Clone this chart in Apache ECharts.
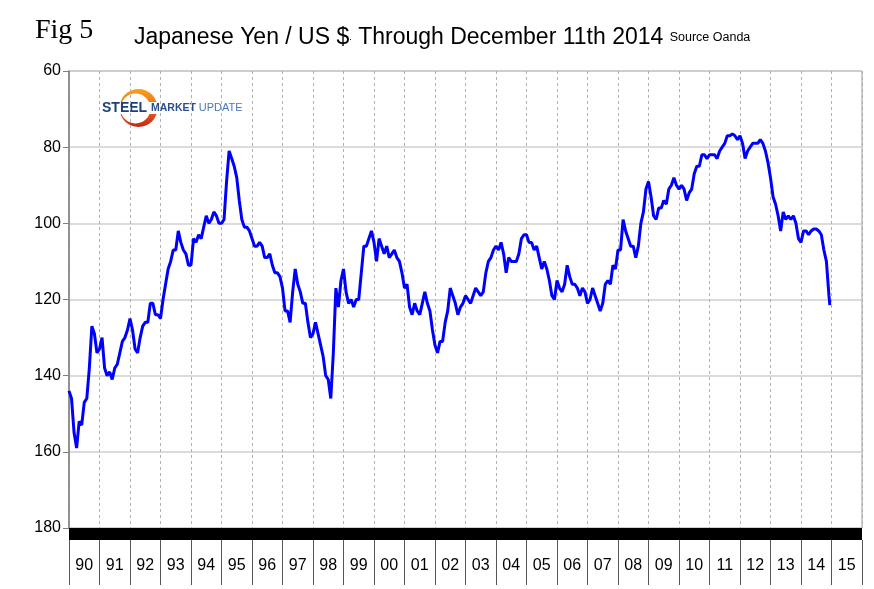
<!DOCTYPE html>
<html>
<head>
<meta charset="utf-8">
<script src="https://cdn.jsdelivr.net/npm/echarts@6/dist/echarts.min.js"></script>
<style>
  html, body { margin: 0; padding: 0; background: #fff; }
  #main { width: 874px; height: 589px; }
</style>
</head>
<body>
<div id="main"></div>
<script>
// yen per US $, one value per month (start of month)
var yen1990 = [144, 146, 155, 159, 152, 153, 147, 146, 138, 127, 129, 134];
var yen1991 = [133, 130, 138, 140, 139, 141, 138, 137, 134, 131, 130, 128];
var yen1992 = [125, 128, 133, 134, 130, 127, 126, 126, 121, 121, 124, 124];
var yen1993 = [125, 120, 116, 112, 110, 107, 107, 102, 105, 107, 108, 111];
var yen1994 = [111, 104, 105, 103, 104, 101, 98, 100, 99, 97, 98, 100];
var yen1995 = [100, 99, 89, 81, 83, 85, 88, 94, 99, 101, 101, 102];
var yen1996 = [104, 106, 106, 105, 106, 109, 109, 108, 111, 113, 113, 114];
var yen1997 = [117, 123, 123, 126, 118, 112, 116, 118, 121, 121, 126, 130];
var yen1998 = [129, 126, 129, 132, 135, 140, 141, 146, 134, 117, 122, 115];
var yen1999 = [112, 118, 121, 120, 122, 120, 120, 113, 106, 106, 104, 102];
var yen2000 = [105, 110, 104, 106, 108, 106, 109, 108, 107, 109, 110, 113];
var yen2001 = [117, 116, 122, 124, 121, 123, 124, 121, 118, 121, 123, 128];
var yen2002 = [132, 134, 131, 131, 126, 123, 117, 119, 121, 124, 122, 121];
var yen2003 = [119, 120, 121, 119, 117, 118, 119, 118, 113, 110, 109, 107];
var yen2004 = [106, 107, 105, 108, 113, 109, 110, 110, 110, 108, 104, 103];
var yen2005 = [103, 105, 105, 107, 106, 109, 112, 110, 112, 115, 119, 120];
var yen2006 = [115, 117, 118, 116, 111, 114, 116, 116, 117, 119, 117, 118];
var yen2007 = [121, 120, 117, 119, 121, 123, 121, 116, 115, 116, 111, 112];
var yen2008 = [107, 107, 99, 102, 104, 106, 106, 109, 106, 100, 97, 91];
var yen2009 = [89, 93, 98, 99, 96, 96, 94, 95, 91, 90, 88, 90];
var yen2010 = [91, 90, 91, 94, 92, 91, 87, 85, 85, 82, 82, 83];
var yen2011 = [82, 82, 82, 83, 81, 80, 79, 77, 77, 76.5, 77, 78];
var yen2012 = [77, 79, 83, 81, 80, 79, 79, 79, 78, 79, 81, 84];
var yen2013 = [88, 93, 95, 98, 102, 97, 99, 98, 99, 98, 100, 104];
var yen2014 = [105, 102, 102, 103, 102, 101.5, 101.5, 102, 103, 107, 110, 119];
var lastDate = 2014.945;   // December 11th 2014
var lastValue = 121.5;

var yearLabels = ['90', '91', '92', '93', '94', '95', '96', '97', '98', '99', '00', '01', '02',
                  '03', '04', '05', '06', '07', '08', '09', '10', '11', '12', '13', '14', '15'];
var yTicks = [60, 80, 100, 120, 140, 160, 180];

var yearly = [yen1990, yen1991, yen1992, yen1993, yen1994, yen1995, yen1996, yen1997, yen1998,
              yen1999, yen2000, yen2001, yen2002, yen2003, yen2004, yen2005, yen2006, yen2007,
              yen2008, yen2009, yen2010, yen2011, yen2012, yen2013, yen2014];

var lineData = [];
yearly.forEach(function (months, y) {
    months.forEach(function (v, m) {
        lineData.push([1990 + y + m / 12, v]);
    });
});
lineData.push([lastDate, lastValue]);

var chart = echarts.init(document.getElementById('main'));

chart.setOption({
    animation: false,
    textStyle: { fontFamily: 'Liberation Sans, Arial, sans-serif' },
    grid: {
        left: 69, right: 12, top: 71, bottom: 61,
        show: true, borderColor: '#9a9a9a', borderWidth: 1
    },
    xAxis: [{
        type: 'value',
        min: 1990,
        max: 2016,
        interval: 1,
        offset: 6,
        axisLine: { lineStyle: { color: '#000', width: 12, cap: 'butt' } },
        axisTick: { show: false },
        axisLabel: { show: false },
        splitLine: { lineStyle: { color: '#b0b0b0', type: [3, 3], width: 1 } }
    }, {
        type: 'category',
        data: yearLabels,
        position: 'bottom',
        offset: 12,
        boundaryGap: true,
        axisLine: { show: false },
        axisTick: { show: true, length: 45, interval: 0, lineStyle: { color: '#555', width: 1 } },
        axisLabel: { interval: 0, margin: 18, fontSize: 16, color: '#000' },
        splitLine: { show: false }
    }],
    yAxis: {
        type: 'value',
        inverse: true,
        min: yTicks[0],
        max: yTicks[yTicks.length - 1],
        interval: 20,
        axisLine: { show: true, lineStyle: { color: '#808080', width: 1.5 } },
        axisTick: { show: true, length: 6, lineStyle: { color: '#808080' } },
        axisLabel: { fontSize: 16, color: '#000', margin: 8 },
        splitLine: { lineStyle: { color: '#cfcfcf', width: 1.5 } }
    },
    graphic: [
        {
            type: 'text', left: 35, top: 17,
            style: { text: 'Fig 5', font: '28px "Liberation Serif", "Times New Roman", serif', fill: '#000' }
        },
        {
            type: 'text', left: 134, top: 26,
            style: {
                text: '{a|Japanese Yen / US $}{d|.}{a| Through December 11th 2014 }{s|Source Oanda}',
                rich: {
                    a: { fontSize: 23, fontFamily: 'Liberation Sans, Arial', fill: '#000' },
                    d: { fontSize: 9, fontFamily: 'Liberation Sans, Arial', fill: '#000' },
                    s: { fontSize: 12.5, fontFamily: 'Liberation Sans, Arial', fill: '#000' }
                }
            }
        },
        // logo: crescent + lettering
        {
            type: 'circle', shape: { cx: 138.5, cy: 108, r: 19 },
            style: {
                fill: new echarts.graphic.LinearGradient(0, 0, 0, 1, [
                    { offset: 0, color: '#f7a21b' },
                    { offset: 0.5, color: '#ea6a1c' },
                    { offset: 1, color: '#c8241a' }
                ])
            }
        },
        { type: 'circle', shape: { cx: 135.5, cy: 108.5, r: 15 }, style: { fill: '#fff' } },
        { type: 'rect', shape: { x: 100, y: 102, width: 144, height: 12 }, style: { fill: '#fff' } },
        {
            type: 'text', left: 102, top: 101,
            style: {
                text: '{b|STEEL }{m|MARKET }{u|UPDATE}',
                rich: {
                    b: { fontSize: 14, fontWeight: 'bold', fontFamily: 'Liberation Sans, Arial', fill: '#1d3f7a' },
                    m: { fontSize: 10.5, fontWeight: 'bold', fontFamily: 'Liberation Sans, Arial', fill: '#2b4f8e' },
                    u: { fontSize: 11, fontFamily: 'Liberation Sans, Arial', fill: '#4a78b8' }
                }
            }
        }
    ],
    series: [{
        type: 'line',
        data: lineData,
        xAxisIndex: 0,
        showSymbol: false,
        lineStyle: { color: '#0000ff', width: 3 },
        itemStyle: { color: '#0000ff' }
    }]
});
</script>
</body>
</html>
